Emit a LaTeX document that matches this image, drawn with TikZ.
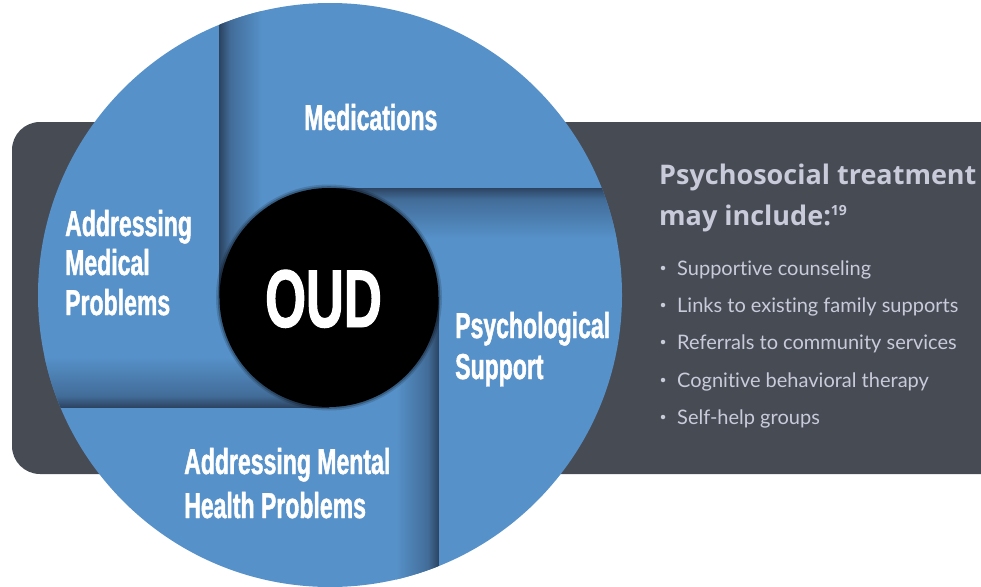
\documentclass[tikz,border=0pt]{standalone}
\usepackage{fontspec}
\newfontfamily\condfont[FakeStretch=0.64,FakeBold=1.2]{Liberation Sans}
\newfontfamily\headfont{Open Sans}
\newfontfamily\listfont[Ligatures=NoCommon]{Lato}
\definecolor{panelblue}{RGB}{86,145,201}
\definecolor{sdark}{RGB}{44,68,98}
\definecolor{smid}{RGB}{66,108,152}
\definecolor{graybox}{RGB}{71,75,84}
\definecolor{lighttext}{RGB}{201,203,219}
\tikzset{
  panellabel/.style={anchor=base west, inner sep=0pt, text=white, font=\condfont\bfseries\fontsize{36}{36}\selectfont},
  headtext/.style={anchor=base west, inner sep=0pt, text=lighttext, font=\headfont\bfseries\fontsize{27}{27}\selectfont},
  listtext/.style={anchor=base west, inner sep=0pt, text=lighttext, font=\listfont\fontsize{20}{20}\selectfont},
  bulletdot/.style={circle, fill=lighttext, inner sep=0pt, minimum size=4.5pt},
}
\begin{document}
\begin{tikzpicture}[x=1pt,y=-1pt]
\useasboundingbox (0,0) rectangle (981,586);
\clip (0,0) rectangle (981,586);
% gray background panel
\fill[graybox, rounded corners=28pt] (12,122) rectangle (1030,474);
% big circle
\coordinate (C) at (330,295);
\coordinate (O) at (329,297.5);
\fill[panelblue] (C) circle[radius=292];
\begin{scope}
  \clip (C) circle[radius=292];
  % shadow right of line A (x=219.5)
  \shade[left color=sdark, right color=smid] (219.5,0) rectangle (230,298);
  \shade[left color=smid, right color=panelblue] (230,0) rectangle (262,298);
  % shadow below line B (y=188)
  \shade[top color=sdark, bottom color=smid] (329,188) rectangle (640,199);
  \shade[top color=smid, bottom color=panelblue] (329,199) rectangle (640,238);
  % shadow left of line C (x=438.5)
  \shade[left color=smid, right color=sdark] (428,297.5) rectangle (438.5,600);
  \shade[left color=panelblue, right color=smid] (396,297.5) rectangle (428,600);
  % shadow above line D (y=407)
  \shade[top color=smid, bottom color=sdark] (20,396) rectangle (329,407);
  \shade[top color=panelblue, bottom color=smid] (20,357) rectangle (329,396);
\end{scope}
% center circle with soft edge
\fill[black, opacity=0.15] (O) circle[radius=113];
\fill[black, opacity=0.25] (O) circle[radius=111.3];
\node[circle, fill=black, inner sep=0pt, minimum size=219pt] (oud) at (O) {};
\node[anchor=base west, inner sep=0pt, text=white, font=\condfont\bfseries\fontsize{82}{82}\selectfont] (oudtext) at (265,327) {OUD};
% panel labels
\node[panellabel] (med) at (304,130) {Medications};
\node[panellabel] (am1) at (65,236) {Addressing};
\node[panellabel] (am2) at (65,275) {Medical};
\node[panellabel] (am3) at (65,315) {Problems};
\node[panellabel] (ps1) at (455,338) {Psychological};
\node[panellabel] (ps2) at (455,379) {Support};
\node[panellabel] (mh1) at (184,474) {Addressing Mental};
\node[panellabel] (mh2) at (184,518) {Health Problems};
% right text
\node[headtext] (h1) at (659,184) {Psychosocial treatment};
\node[headtext] (h2) at (659,225) {may include:\raisebox{10pt}{\fontsize{14}{14}\selectfont 19}};
\node[listtext] (l1) at (677,275) {Supportive counseling};
\node[listtext] (l2) at (677,312) {Links to existing family supports};
\node[listtext] (l3) at (677,349) {Referrals to community services};
\node[listtext] (l4) at (677,387) {Cognitive behavioral therapy};
\node[listtext] (l5) at (677,424) {Self-help groups};
\node[bulletdot] (b1) at (663,268) {};
\node[bulletdot] (b2) at (663,305) {};
\node[bulletdot] (b3) at (663,342) {};
\node[bulletdot] (b4) at (663,380) {};
\node[bulletdot] (b5) at (663,417) {};
\end{tikzpicture}
\end{document}
